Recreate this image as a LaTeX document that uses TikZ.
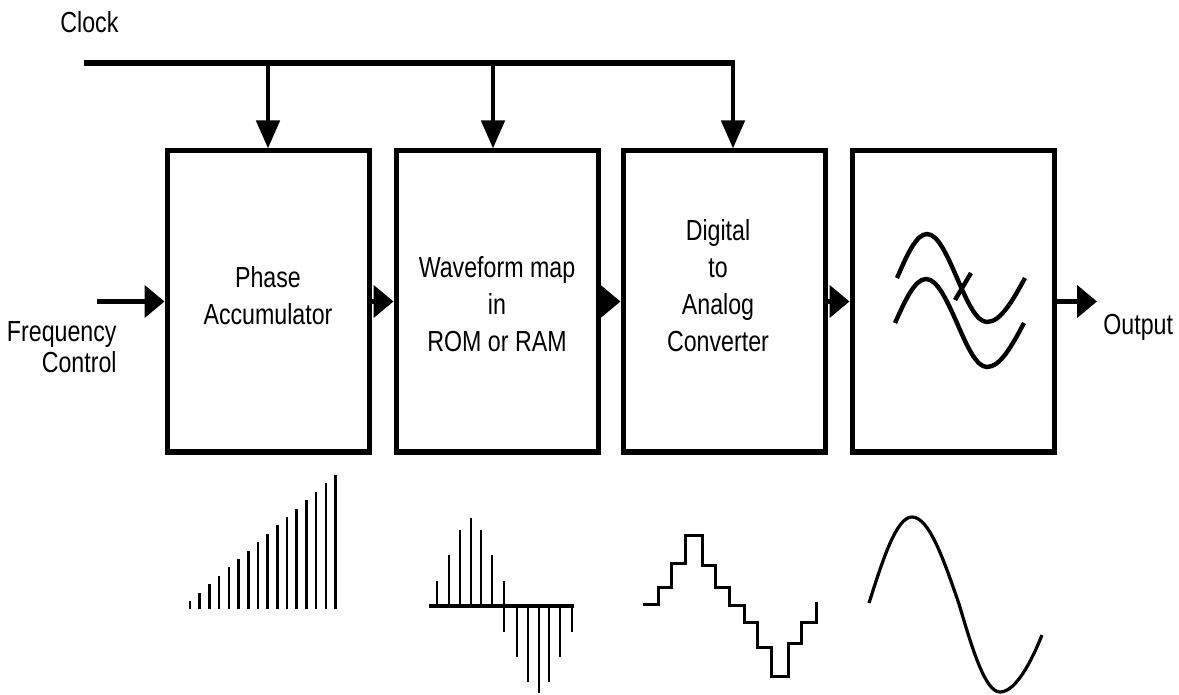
\documentclass[tikz,border=0pt]{standalone}
\usepackage{fontspec}
\newfontfamily\diagfont[FakeStretch=0.8]{Liberation Sans}
\usetikzlibrary{arrows.meta}

\begin{document}
\begin{tikzpicture}
[x=0.5pt,y=-0.5pt,%
  blockDecorate/.style={draw,line width=2.5pt,inner sep=0pt,minimum width=101pt,minimum height=150.5pt},%
  textDecorate/.style={font=\diagfont\fontsize{14.5}{18.5}\selectfont,align=center,inner sep=0pt},%
  busDecorate/.style={line width=3pt},%
  arrowDecorate/.style={line width=2.3pt,-{Triangle[length=10pt,width=16pt]}},%
  clockDecorate/.style={line width=2.3pt,-{Triangle[length=14pt,width=11.5pt]}},%
  symbolDecorate/.style={line width=2.2pt},%
  waveDecorate/.style={line width=1.3pt}]
\useasboundingbox (0,0) rectangle (1179,695);
%% blocks
\node[blockDecorate] (b1) at (268,301.5) {};
\node[blockDecorate] (b2) at (497,301.5) {};
\node[blockDecorate] (b3) at (724,301.5) {};
\node[blockDecorate] (b4) at (953,301.5) {};
%% block labels
\node[textDecorate] (phase) at (268,296) {Phase\\Accumulator};
\node[textDecorate] (rom) at (497,304) {Waveform map\\in\\ROM or RAM};
\node[textDecorate] (dac) at (718,286) {Digital\\to\\Analog\\Converter};
%% outside labels
\node[textDecorate,anchor=base west] (clock) at (60,33) {Clock};
\node[textDecorate,font=\diagfont\fontsize{14.5}{15.5}\selectfont,align=right,anchor=north east] (freq) at (117,321) {Frequency\\Control};
\node[textDecorate,anchor=base west] (out) at (1103,335) {Output};
%% clock bus
\coordinate (busL) at (84,63);
\coordinate (c1) at (268,63);
\coordinate (c2) at (493,63);
\coordinate (c3) at (733,63);
\draw[busDecorate] (busL) -- ([xshift=1.15pt]c3);
\foreach \clk/\blk in {c1/b1, c2/b2, c3/b3}
  \draw[clockDecorate] ([yshift=-1pt]\clk) -- (\clk |- \blk.north);
%% signal path
\coordinate (fin) at (97,301.5);
\coordinate (fout) at (1097,301.5);
\draw[arrowDecorate] (fin) -- (b1.west);
\draw[arrowDecorate] (b1.east) -- (b2.west);
\draw[arrowDecorate] (b2.east) -- (b3.west);
\draw[arrowDecorate] (b3.east) -- (b4.west);
\draw[arrowDecorate] (b4.east) -- (fout);
%% filter symbol
\draw[symbolDecorate] (897,278) sin (927,234) cos (957,278) sin (987,322) cos (1025,278);
\draw[symbolDecorate] (895,323) sin (926,279) cos (957,323) sin (987,367) cos (1024,323);
\draw[symbolDecorate] (955,300) -- (971,273);
%% phase ramp
\foreach \i in {0,...,15}
  \draw[waveDecorate] ({190+9.7*\i},609) -- ({190+9.7*\i},{601-8.4*\i});
%% stored samples
\draw[line width=2pt] (429,606) -- (574,606);
\foreach \x/\top/\bot in {437/581/606, 449/555/606, 460/530/606, 471/518/606,
  481/530/606, 492/555/606, 504/581/632, 517/606/657, 528/606/682,
  539/606/693, 549/606/682, 560/606/657, 572/606/632}
  \draw[waveDecorate] (\x,\top) -- (\x,\bot);
%% staircase
\draw[waveDecorate,line width=1.5pt] (643,604) -| (658,587) -| (671,563) -| (685,535)
  -| (702,565) -| (715,587) -| (729,605) -| (744,622) -| (757,647) -| (771,676)
  -| (788,643) -| (801,622) -| (816,603) -- (818,603);
%% output sine
\draw[waveDecorate,line width=1.6pt] (869,603) sin (912,517) cos (959,604) sin (1000,692)
  .. controls (1016,692) and (1032,660) .. (1042,635);
\end{tikzpicture}
\end{document}
